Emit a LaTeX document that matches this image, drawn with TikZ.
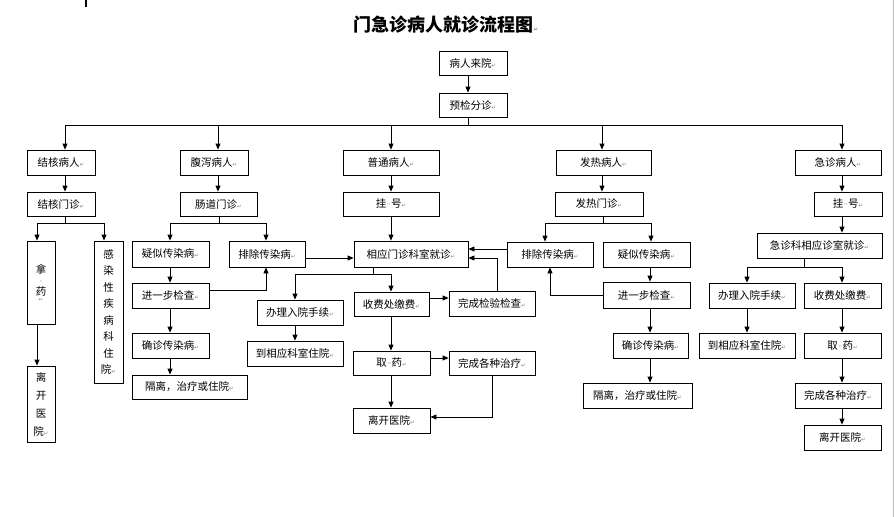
\documentclass[tikz,border=0pt]{standalone}
\usepackage{fontspec}
\setmainfont{Noto Sans CJK SC}
\newfontfamily\symf{DejaVu Sans}
\usetikzlibrary{arrows.meta}
\tikzset{
  box/.style={draw, line width=0.8pt, inner sep=0pt, align=center, font=\fontsize{10.5}{12}\selectfont},
  arr/.style={line width=0.8pt, -{Triangle[length=6pt,width=5pt]}},
  ln/.style={line width=0.8pt},
}
\newcommand\pmk{{\symf\fontsize{5.5}{5.5}\selectfont\color{gray}↵}}
\newcommand\sdots{{\symf\fontsize{9}{9}\selectfont\color{gray!70}·\kern-1pt·}}
\newcommand\bx[6]{\node[box, minimum width={#4-#2}, minimum height={#5-#3}] (#1) at ({(#2+#4)/2},{(#3+#5)/2}) {#6};}
\begin{document}
\begin{tikzpicture}[x=1pt,y=-1pt]
\useasboundingbox (0,0) rectangle (895,517);
% artefacts of the page
\draw[line width=1.5pt] (86,0) -- (86,7);
\draw[gray!50, line width=1pt] (893,0) -- (893,517);
% title
\node[font=\fontsize{18}{20}\selectfont\bfseries] (title) at (446,25) {门急诊病人就诊流程图\pmk};
% top
\bx{lry}{439}{51}{507}{75}{病人来院\pmk}
\bx{yj}{439}{93}{507}{117}{预检分诊\pmk}
% row 1
\bx{jh1}{27}{150}{95}{175}{结核病人\pmk}
\bx{fx1}{180}{150}{248}{175}{腹泻病人\pmk}
\bx{pt1}{343}{150}{439}{175}{普通病人\pmk}
\bx{fr1}{556}{150}{651}{175}{发热病人\pmk}
\bx{jz1}{795}{150}{881}{175}{急诊病人\pmk}
% row 2
\bx{jh2}{27}{192}{95}{216}{结核门诊\pmk}
\bx{fx2}{180}{192}{257}{216}{肠道门诊\pmk}
\bx{pt2}{343}{192}{439}{216}{挂\sdots 号\pmk}
\bx{fr2}{555}{192}{643}{216}{发热门诊\pmk}
\bx{jz2}{814}{192}{882}{216}{挂\sdots 号\pmk}
% tuberculosis
\bx{nay}{27}{241}{55}{324}{拿\\[-1pt]{\symf\fontsize{9}{9}\selectfont\color{gray!70}·}\\[-1pt]药\\[-6pt]\pmk}
\node[box, font=\fontsize{10.5}{16.5}\selectfont, minimum width=29, minimum height=142] (grx) at (108.5,312) {感\\染\\性\\疾\\病\\科\\住\\院\pmk};
\node[box, font=\fontsize{10.5}{18}\selectfont, minimum width=28, minimum height=76] (lk1) at (41,404) {离\\开\\医\\院\pmk};
% intestinal
\bx{ys1}{132}{241}{209}{267}{疑似传染病\pmk}
\bx{pc1}{229}{241}{305}{267}{排除传染病\pmk}
\bx{jc1}{132}{283}{209}{308}{进一步检查\pmk}
\bx{qz1}{132}{333}{209}{358}{确诊传染病\pmk}
\bx{gl1}{132}{375}{247}{399}{隔离，治疗或住院\pmk}
% ordinary
\bx{xy}{354}{241}{468}{267}{相应门诊科室就诊\pmk}
\bx{bl1}{257}{300}{343}{325}{办理入院手续\pmk}
\bx{dx1}{247}{341}{343}{366}{到相应科室住院\pmk}
\bx{sf1}{354}{292}{429}{316}{收费处缴费\pmk}
\bx{wj}{449}{291}{535}{316}{完成检验检查\pmk}
\bx{qy1}{353}{351}{430}{375}{取\sdots 药\pmk}
\bx{wz1}{449}{351}{535}{375}{完成各种治疗\pmk}
\bx{lk2}{353}{408}{430}{433}{离开医院\pmk}
% fever
\bx{pc2}{507}{242}{593}{267}{排除传染病\pmk}
\bx{ys2}{603}{242}{690}{267}{疑似传染病\pmk}
\bx{jc2}{603}{282}{690}{308}{进一步检查\pmk}
\bx{qz2}{613}{333}{688}{358}{确诊传染病\pmk}
\bx{gl2}{583}{383}{692}{408}{隔离，治疗或住院\pmk}
% emergency
\bx{jz3}{757}{233}{882}{258}{急诊科相应诊室就诊\pmk}
\bx{bl2}{709}{283}{795}{308}{办理入院手续\pmk}
\bx{sf2}{804}{283}{881}{308}{收费处缴费\pmk}
\bx{dx2}{699}{333}{795}{358}{到相应科室住院\pmk}
\bx{qy2}{804}{333}{881}{358}{取\sdots 药\pmk}
\bx{wz2}{795}{383}{881}{408}{完成各种治疗\pmk}
\bx{lk3}{804}{425}{881}{450}{离开医院\pmk}
% ---- connectors ----
\coordinate (b0) at (468,125);
\draw[arr] (lry.south -| b0) -- (yj.north -| b0);
\draw[ln] (yj.south -| b0) -- (b0);
\draw[arr] (b0) -| (jh1.north -| 65,0);
\draw[arr] (b0) -| (fx1.north -| 218,0);
\draw[arr] (b0) -| (pt1.north -| 391,0);
\draw[arr] (b0) -| (fr1.north -| 602,0);
\draw[arr] (b0) -| (jz1.north -| 842,0);
\draw[arr] (jh1.south -| 65,0) -- (jh2.north -| 65,0);
\draw[arr] (fx1.south -| 218,0) -- (fx2.north -| 218,0);
\draw[arr] (pt1.south -| 391,0) -- (pt2.north -| 391,0);
\draw[arr] (fr1.south -| 602,0) -- (fr2.north -| 602,0);
\draw[arr] (jz1.south -| 842,0) -- (jz2.north -| 842,0);
% tuberculosis
\coordinate (b1) at (65,223);
\draw[ln] (jh2.south -| b1) -- (b1);
\draw[arr] (b1) -| (nay.north -| 37,0);
\draw[arr] (b1) -| (grx.north -| 104,0);
\draw[arr] (nay.south -| 37,0) -- (lk1.north -| 37,0);
% intestinal
\coordinate (b2) at (219,223);
\draw[ln] (fx2.south -| b2) -- (b2);
\draw[arr] (b2) -| (ys1.north -| 170,0);
\draw[arr] (b2) -| (pc1.north -| 266,0);
\draw[arr] (ys1.south -| 170,0) -- (jc1.north -| 170,0);
\draw[arr] (jc1.south -| 170,0) -- (qz1.north -| 170,0);
\draw[arr] (qz1.south -| 170,0) -- (gl1.north -| 170,0);
\draw[arr] (jc1.east |- 0,290) -| (pc1.south -| 266,0);
\draw[arr] (pc1.east |- 0,258) -- (xy.west |- 0,258);
% ordinary
\draw[arr] (pt2.south -| 391,0) -- (xy.north -| 391,0);
\coordinate (b3) at (373,274);
\draw[ln] (xy.south -| b3) -- (b3);
\draw[arr] (b3) -| (bl1.north -| 295,0);
\draw[arr] (b3) -| (sf1.north -| 391,0);
\draw[arr] (bl1.south -| 295,0) -- (dx1.north -| 295,0);
\draw[arr] (sf1.east |- 0,298) -- (wj.west |- 0,298);
\draw[arr] (sf1.south -| 391,0) -- (qy1.north -| 391,0);
\draw[arr] (qy1.east |- 0,358) -- (wz1.west |- 0,358);
\draw[arr] (qy1.south -| 391,0) -- (lk2.north -| 391,0);
\draw[arr] (wz1.south -| 492,0) |- (lk2.east |- 0,417);
\draw[arr] (wj.north -| 497,0) |- (xy.east |- 0,258);
\draw[arr] (pc2.west |- 0,249) -- (xy.east |- 0,249);
% fever
\coordinate (b4) at (603,223);
\draw[ln] (fr2.south -| b4) -- (b4);
\draw[arr] (b4) -| (pc2.north -| 545,0);
\draw[arr] (b4) -| (ys2.north -| 651,0);
\draw[arr] (ys2.south -| 650,0) -- (jc2.north -| 650,0);
\draw[arr] (jc2.west |- 0,295) -| (pc2.south -| 550,0);
\draw[arr] (jc2.south -| 650,0) -- (qz2.north -| 650,0);
\draw[arr] (qz2.south -| 650,0) -- (gl2.north -| 650,0);
% emergency
\draw[arr] (jz2.south -| 842,0) -- (jz3.north -| 842,0);
\coordinate (b5) at (804,267);
\draw[ln] (jz3.south -| b5) -- (b5);
\draw[arr] (b5) -| (bl2.north -| 747,0);
\draw[arr] (b5) -| (sf2.north -| 842,0);
\draw[arr] (bl2.south -| 747,0) -- (dx2.north -| 747,0);
\draw[arr] (sf2.south -| 842,0) -- (qy2.north -| 842,0);
\draw[arr] (qy2.south -| 842,0) -- (wz2.north -| 842,0);
\draw[arr] (wz2.south -| 842,0) -- (lk3.north -| 842,0);
\end{tikzpicture}
\end{document}
